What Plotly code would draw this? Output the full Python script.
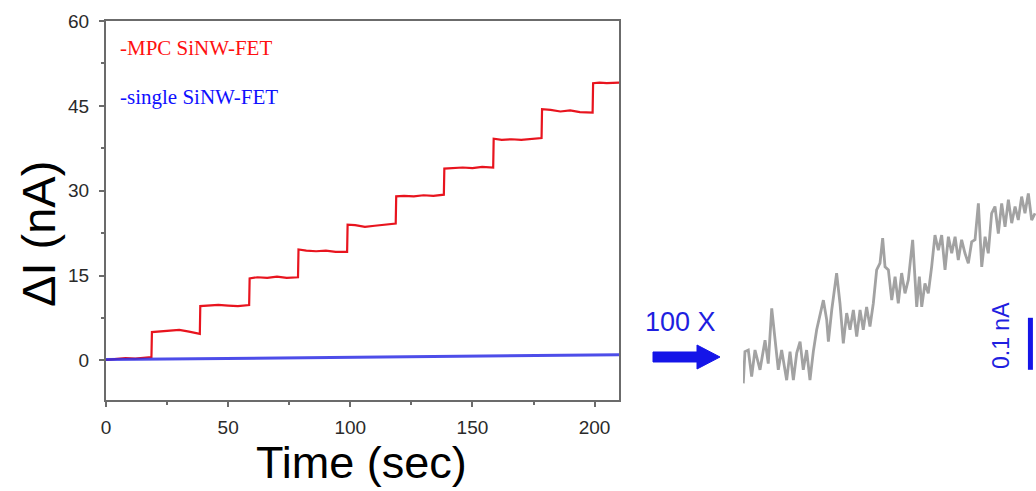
import plotly.graph_objects as go

W, H = 1036, 491

# ---- main panel data: current change vs. time ----
mpc_t = [0, 4, 8, 12, 16, 18.6,
         18.8, 22, 26, 30, 34, 37, 38.4,
         38.6, 42, 46, 50, 54, 58.6,
         58.8, 62, 66, 70, 74, 78.6,
         78.8, 82, 86, 90, 94, 98.7,
         98.9, 102, 106, 110, 114, 118.6,
         118.8, 122, 126, 130, 134, 138.3,
         138.5, 142, 146, 150, 154, 158.5,
         158.7, 162, 166, 170, 174, 178.3,
         178.5, 182, 186, 190, 194, 199.2,
         199.4, 202, 205, 208, 210]
mpc_dI = [0.1, 0.3, 0.4, 0.3, 0.5, 0.6,
          5.0, 5.1, 5.2, 5.4, 5.1, 4.8, 4.7,
          9.6, 9.7, 9.8, 9.7, 9.6, 9.8,
          14.5, 14.7, 14.6, 14.8, 14.6, 14.7,
          19.6, 19.4, 19.3, 19.4, 19.2, 19.2,
          24.0, 23.9, 23.6, 23.8, 24.0, 24.2,
          29.0, 29.1, 29.0, 29.2, 29.1, 29.3,
          33.9, 34.0, 34.1, 34.0, 34.2, 34.1,
          39.2, 39.0, 39.1, 39.0, 39.2, 39.3,
          44.4, 44.3, 44.0, 44.2, 43.9, 43.8,
          49.0, 49.1, 49.0, 49.1, 49.1]

single_t = [0, 12, 25, 37, 50, 62, 75, 87, 100, 112, 125, 137, 150, 162, 175, 187, 200, 210]
single_dI = [0.15, 0.2, 0.3, 0.25, 0.35, 0.4, 0.45, 0.5, 0.55, 0.6, 0.62, 0.7, 0.75, 0.8, 0.85, 0.9, 0.95, 1.0]

x_ticks = [0, 50, 100, 150, 200]
y_ticks = [0, 15, 30, 45, 60]

# ---- magnified (100 X) single SiNW-FET trace, in nA ----
zoom_t = [0.2, 1.4, 3.8, 6.2, 8.6, 12.2, 15.8, 18.1, 20.6, 22.9, 25.3, 27.7, 31.3, 33.7,
          36.1, 38.5, 40.9, 43.2, 45.6, 48.0, 50.4, 52.8, 55.2, 57.6, 60.0, 61.2, 63.6,
          67.1, 69.5, 71.9, 74.3, 76.7, 79.1, 81.5, 83.9, 86.2, 88.6, 91.0, 93.4, 95.8,
          98.2, 100.1, 101.8, 104.2, 106.6, 109.0, 111.3, 113.7, 116.1, 118.5, 121.6,
          123.3, 124.5, 126.4, 128.1, 130.4, 132.8, 135.2, 137.6, 140.0, 142.4, 144.8,
          147.2, 149.6, 152.0, 154.3, 156.7, 159.1, 161.5, 163.9, 166.3, 168.7, 171.1,
          173.5, 175.8, 178.2, 180.6, 183.0, 185.4, 187.8, 190.2, 192.6, 195.0, 197.3,
          199.7, 202.1, 204.5, 206.9, 209.3]
zoom_dI = [0.0, 0.061, 0.064, 0.013, 0.064, 0.026, 0.083, 0.038, 0.144, 0.083, 0.026,
           0.064, 0.006, 0.061, 0.006, 0.058, 0.080, 0.026, 0.064, 0.006, 0.061, 0.103,
           0.135, 0.160, 0.122, 0.080, 0.141, 0.212, 0.154, 0.077, 0.135, 0.103, 0.141,
           0.090, 0.141, 0.103, 0.147, 0.109, 0.154, 0.218, 0.231, 0.279, 0.224, 0.218,
           0.160, 0.205, 0.154, 0.212, 0.173, 0.199, 0.276, 0.192, 0.147, 0.205, 0.147,
           0.192, 0.173, 0.224, 0.285, 0.256, 0.285, 0.218, 0.282, 0.250, 0.282, 0.237,
           0.276, 0.250, 0.231, 0.272, 0.276, 0.346, 0.224, 0.282, 0.250, 0.327, 0.340,
           0.288, 0.346, 0.301, 0.353, 0.308, 0.340, 0.314, 0.359, 0.327, 0.365, 0.314,
           0.327]
scale_bar_nA = 0.1


def px(x):
    return x / W


def py(y):
    return 1 - y / H


RED = "#e8141e"
BLUE = "#2f2fe6"
TXT_BLUE = "#1f1fe0"
FRAME = "#6b6b6b"
FONT = "Liberation Sans, Arial, sans-serif"

fig = go.Figure()
fig.add_trace(go.Scatter(x=mpc_t, y=mpc_dI, mode="lines",
                         line=dict(color=RED, width=2.2), showlegend=False))
fig.add_trace(go.Scatter(x=single_t, y=single_dI, mode="lines",
                         line=dict(color=BLUE, width=3), opacity=0.85, showlegend=False))
fig.add_trace(go.Scatter(x=zoom_t, y=zoom_dI, mode="lines", xaxis="x2", yaxis="y2",
                         line=dict(color="#a2a2a2", width=2.8), showlegend=False))

axis_common = dict(showgrid=False, zeroline=False, showline=True, linecolor=FRAME,
                   linewidth=2, mirror=True, ticks="outside", ticklen=5, tickwidth=1.5,
                   tickcolor=FRAME, automargin=False,
                   tickfont=dict(family=FONT, size=19, color="#2a2a2a"))

fig.update_layout(
    width=W, height=H,
    margin=dict(l=0, r=0, t=0, b=0, autoexpand=False),
    paper_bgcolor="white", plot_bgcolor="white",
    xaxis=dict(range=[0, 210], domain=[px(106), px(619)], tickvals=x_ticks,
               minor=dict(dtick=25, tick0=0, ticks="outside", ticklen=3, tickcolor=FRAME),
               ticklabelstandoff=4, **axis_common),
    yaxis=dict(range=[-7, 60], domain=[py(400), py(21)], tickvals=y_ticks,
               minor=dict(dtick=7.5, tick0=0, ticks="outside", ticklen=3, tickcolor=FRAME),
               ticklabelstandoff=6, **axis_common),
    xaxis2=dict(range=[0, 210], domain=[px(743), 1.0], anchor="y2", visible=False,
                automargin=False),
    yaxis2=dict(range=[-0.0321, 0.391], domain=[py(400), py(180)], anchor="x2",
                visible=False, automargin=False),
)

annotations = [
    dict(text="ΔI (nA)", x=px(38), y=py(234), textangle=-90,
         font=dict(family=FONT, size=47, color="black")),
    dict(text="Time (sec)", x=px(361), y=py(462),
         font=dict(family=FONT, size=45, color="black")),
    dict(text="-MPC SiNW-FET", x=px(118), y=py(48), xanchor="left",
         font=dict(family="Liberation Serif, Times New Roman, serif", size=21, color="#ff1010")),
    dict(text="-single SiNW-FET", x=px(118), y=py(97), xanchor="left",
         font=dict(family="Liberation Serif, Times New Roman, serif", size=21, color="#1010ff")),
    dict(text="100 X", x=px(680), y=py(322),
         font=dict(family=FONT, size=27, color=TXT_BLUE)),
    dict(text="0.1 nA", x=px(1001), y=py(336), textangle=-90,
         font=dict(family=FONT, size=23, color=TXT_BLUE)),
]
for a in annotations:
    a.update(xref="paper", yref="paper", showarrow=False)
    a.setdefault("xanchor", "center")
    a["yanchor"] = "middle"
fig.update_layout(annotations=annotations)

# block arrow pointing at the magnified trace
arrow_pts = [(653, 352), (697, 352), (697, 345), (720, 357), (697, 369), (697, 362), (653, 362)]
path = "M " + " L ".join(f"{px(x):.5f},{py(y):.5f}" for x, y in arrow_pts) + " Z"
fig.add_shape(type="path", path=path, xref="paper", yref="paper",
              fillcolor="#1515e8", line=dict(color="#1515e8", width=1))

# 0.1 nA scale bar on the magnified trace
fig.add_shape(type="line", xref="x2", yref="y2", x0=206, x1=206,
              y0=0.026, y1=0.026 + scale_bar_nA, line=dict(color="#1515e8", width=5))

fig.write_html("out.html")
